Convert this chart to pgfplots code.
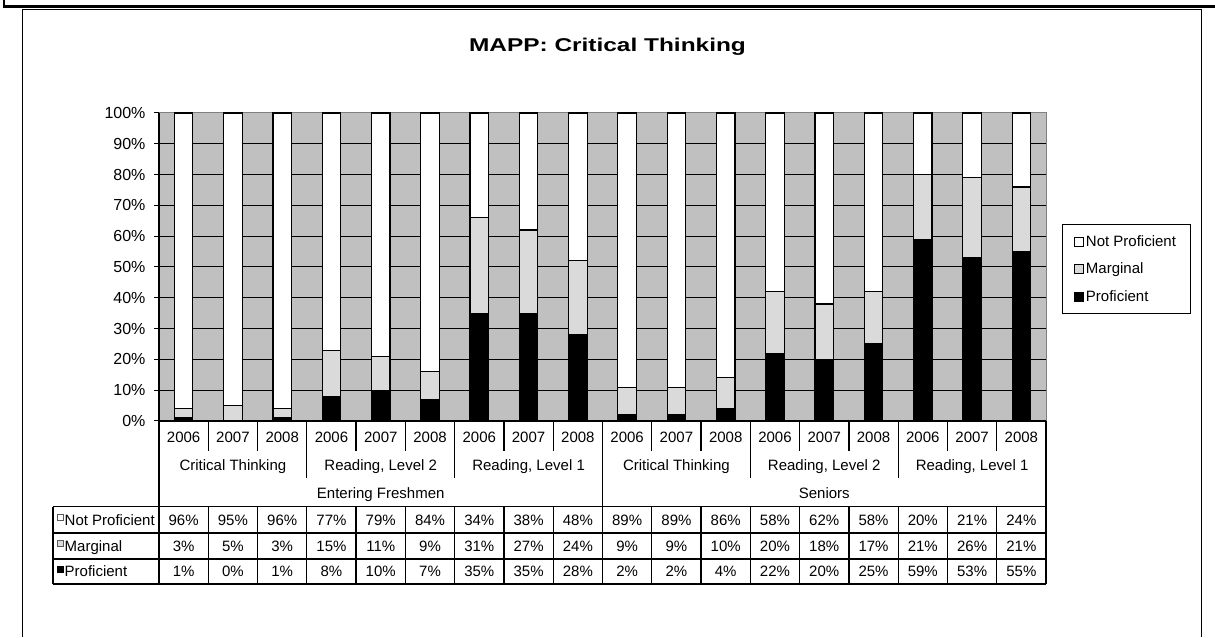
\documentclass[border=0pt]{standalone}
\usepackage{fontspec}
\setmainfont{Liberation Sans}
\usepackage{graphicx}
\usepackage{pgfplots}
\usepackage{pgfplotstable}
\pgfplotsset{compat=1.18}
\definecolor{plotbg}{RGB}{192,192,192}
\definecolor{marg}{RGB}{218,218,218}
\definecolor{keyedge}{RGB}{90,90,90}

\pgfplotstableread{
x np mg pr
0 96 3 1
1 95 5 0
2 96 3 1
3 77 15 8
4 79 11 10
5 84 9 7
6 34 31 35
7 38 27 35
8 48 24 28
9 89 9 2
10 89 9 2
11 86 10 4
12 58 20 22
13 62 18 20
14 58 17 25
15 20 21 59
16 21 26 53
17 24 21 55
}\datatable

\newcommand{\tbl}{\fontsize{15}{17}\selectfont}
\tikzset{tb/.style={font=\tbl, anchor=base, inner sep=0pt}}

\begin{document}
\begin{tikzpicture}[x=1pt,y=1pt]
\useasboundingbox (0,0) rectangle (1215,637);
\begin{scope}
\clip (0,0) rectangle (1215,637);
% outer frame
\draw[line width=2.5pt] (4,637) -- (4,630.5) -- (1215,630.5);
\draw[line width=1pt] (22,0) -- (22,627.5) -- (1201,627.5) -- (1201,0);
\end{scope}

\node[font=\bfseries\fontsize{18.5}{22}\selectfont] at (607.5,590.5) {\scalebox{1.32}[1]{MAPP: Critical Thinking}};

\begin{axis}[
  at={(159pt,216pt)}, anchor=south west,
  scale only axis, width=887pt, height=308pt,
  xmin=-0.5, xmax=17.5, ymin=0, ymax=100,
  ybar stacked, bar width=18.5pt,
  legend image code/.code={\draw[#1,line width=0.6pt] (0pt,-4.5pt) rectangle (9pt,4.5pt);},
  axis background/.style={fill=plotbg},
  axis line style={draw=gray, line width=1pt},
  xtick=\empty,
  ytick={0,10,...,90},
  yticklabels={0\%,10\%,20\%,30\%,40\%,50\%,60\%,70\%,80\%,90\%},
  extra y ticks={100},
  extra y tick labels={100\%},
  extra y tick style={grid=none},
  ymajorgrids,
  grid style={black, line width=1pt},
  ytick pos=left,
  tick align=outside,
  major tick length=5pt,
  tick style={black, line width=1pt},
  yticklabel style={font=\fontsize{16}{16}\selectfont, xshift=-5pt},
  reverse legend,
  legend cell align=left,
  legend style={at={(axis description cs:1.018,0.6396)}, anchor=north west,
    draw=black, line width=0.8pt, font=\fontsize{15}{17}\selectfont, row sep=11pt,
    inner xsep=12pt, inner ysep=9pt},
]
\addplot[fill=black, draw=black, line width=1.2pt] table[x=x,y=pr]{\datatable};
\addlegendentry{Proficient}
\addplot[fill=marg, draw=black, line width=1.2pt] table[x=x,y=mg]{\datatable};
\addlegendentry{Marginal}
\addplot[fill=white, draw=black, line width=1.2pt] table[x=x,y=np]{\datatable};
\addlegendentry{Not Proficient}
\end{axis}

% axis black lines
\draw[line width=1.3pt] (159,524) -- (159,53);
\draw[line width=1.3pt] (159,216) -- (1046,216);

% category table lines
\def\colw{49.2778}
\foreach \i in {1,...,17} {
  \pgfmathsetmacro\cx{159+\i*\colw}
  \pgfmathsetmacro\bot{ifthenelse(\i==9,130.3,ifthenelse(mod(\i,3)==0,159,186))}
  \draw[line width=1.3pt] (\cx,216) -- (\cx,\bot);
}
\draw[line width=1.3pt] (1046,216) -- (1046,53);
% data table
\foreach \yy in {130.3,104,78,53} {
  \draw[line width=1.2pt] (53,\yy) -- (1046,\yy);
}
\draw[line width=1.2pt] (53,130.3) -- (53,53);
\foreach \i in {1,...,17} {
  \pgfmathsetmacro\cx{159+\i*\colw}
  \draw[line width=1.3pt] (\cx,130.3) -- (\cx,53);
}

% year labels and values
\foreach \i in {0,...,17} {
  \pgfmathsetmacro\cx{159+(\i+0.5)*\colw}
  \pgfmathtruncatemacro\yr{2006+mod(\i,3)}
  \node[tb] at (\cx,194.6) {\yr};
  \pgfplotstablegetelem{\i}{np}\of\datatable
  \node[tb] at (\cx,111.6) {\pgfplotsretval\%};
  \pgfplotstablegetelem{\i}{mg}\of\datatable
  \node[tb] at (\cx,85.6) {\pgfplotsretval\%};
  \pgfplotstablegetelem{\i}{pr}\of\datatable
  \node[tb] at (\cx,60.1) {\pgfplotsretval\%};
}
% group labels
\foreach \g/\lab in {0/{Critical Thinking},1/{Reading, Level 2},2/{Reading, Level 1},3/{Critical Thinking},4/{Reading, Level 2},5/{Reading, Level 1}} {
  \pgfmathsetmacro\cx{159+(3*\g+1.5)*\colw}
  \node[tb] at (\cx,166.6) {\lab};
}
\node[tb] at (380.75,138.6) {Entering Freshmen};
\node[tb] at (824.25,138.6) {Seniors};

% row labels
\draw[keyedge, fill=white, line width=0.6pt] (57.5,116.5) rectangle (63.5,122.5);
\draw[keyedge, fill=marg, line width=0.6pt] (57.5,90.5) rectangle (63.5,96.5);
\draw[black, fill=black, line width=0.6pt] (57.5,65) rectangle (63.5,71);
\node[tb, anchor=base west] at (64.5,111.6) {Not Proficient};
\node[tb, anchor=base west] at (64.5,85.6) {Marginal};
\node[tb, anchor=base west] at (64.5,60.1) {Proficient};
\end{tikzpicture}
\end{document}
